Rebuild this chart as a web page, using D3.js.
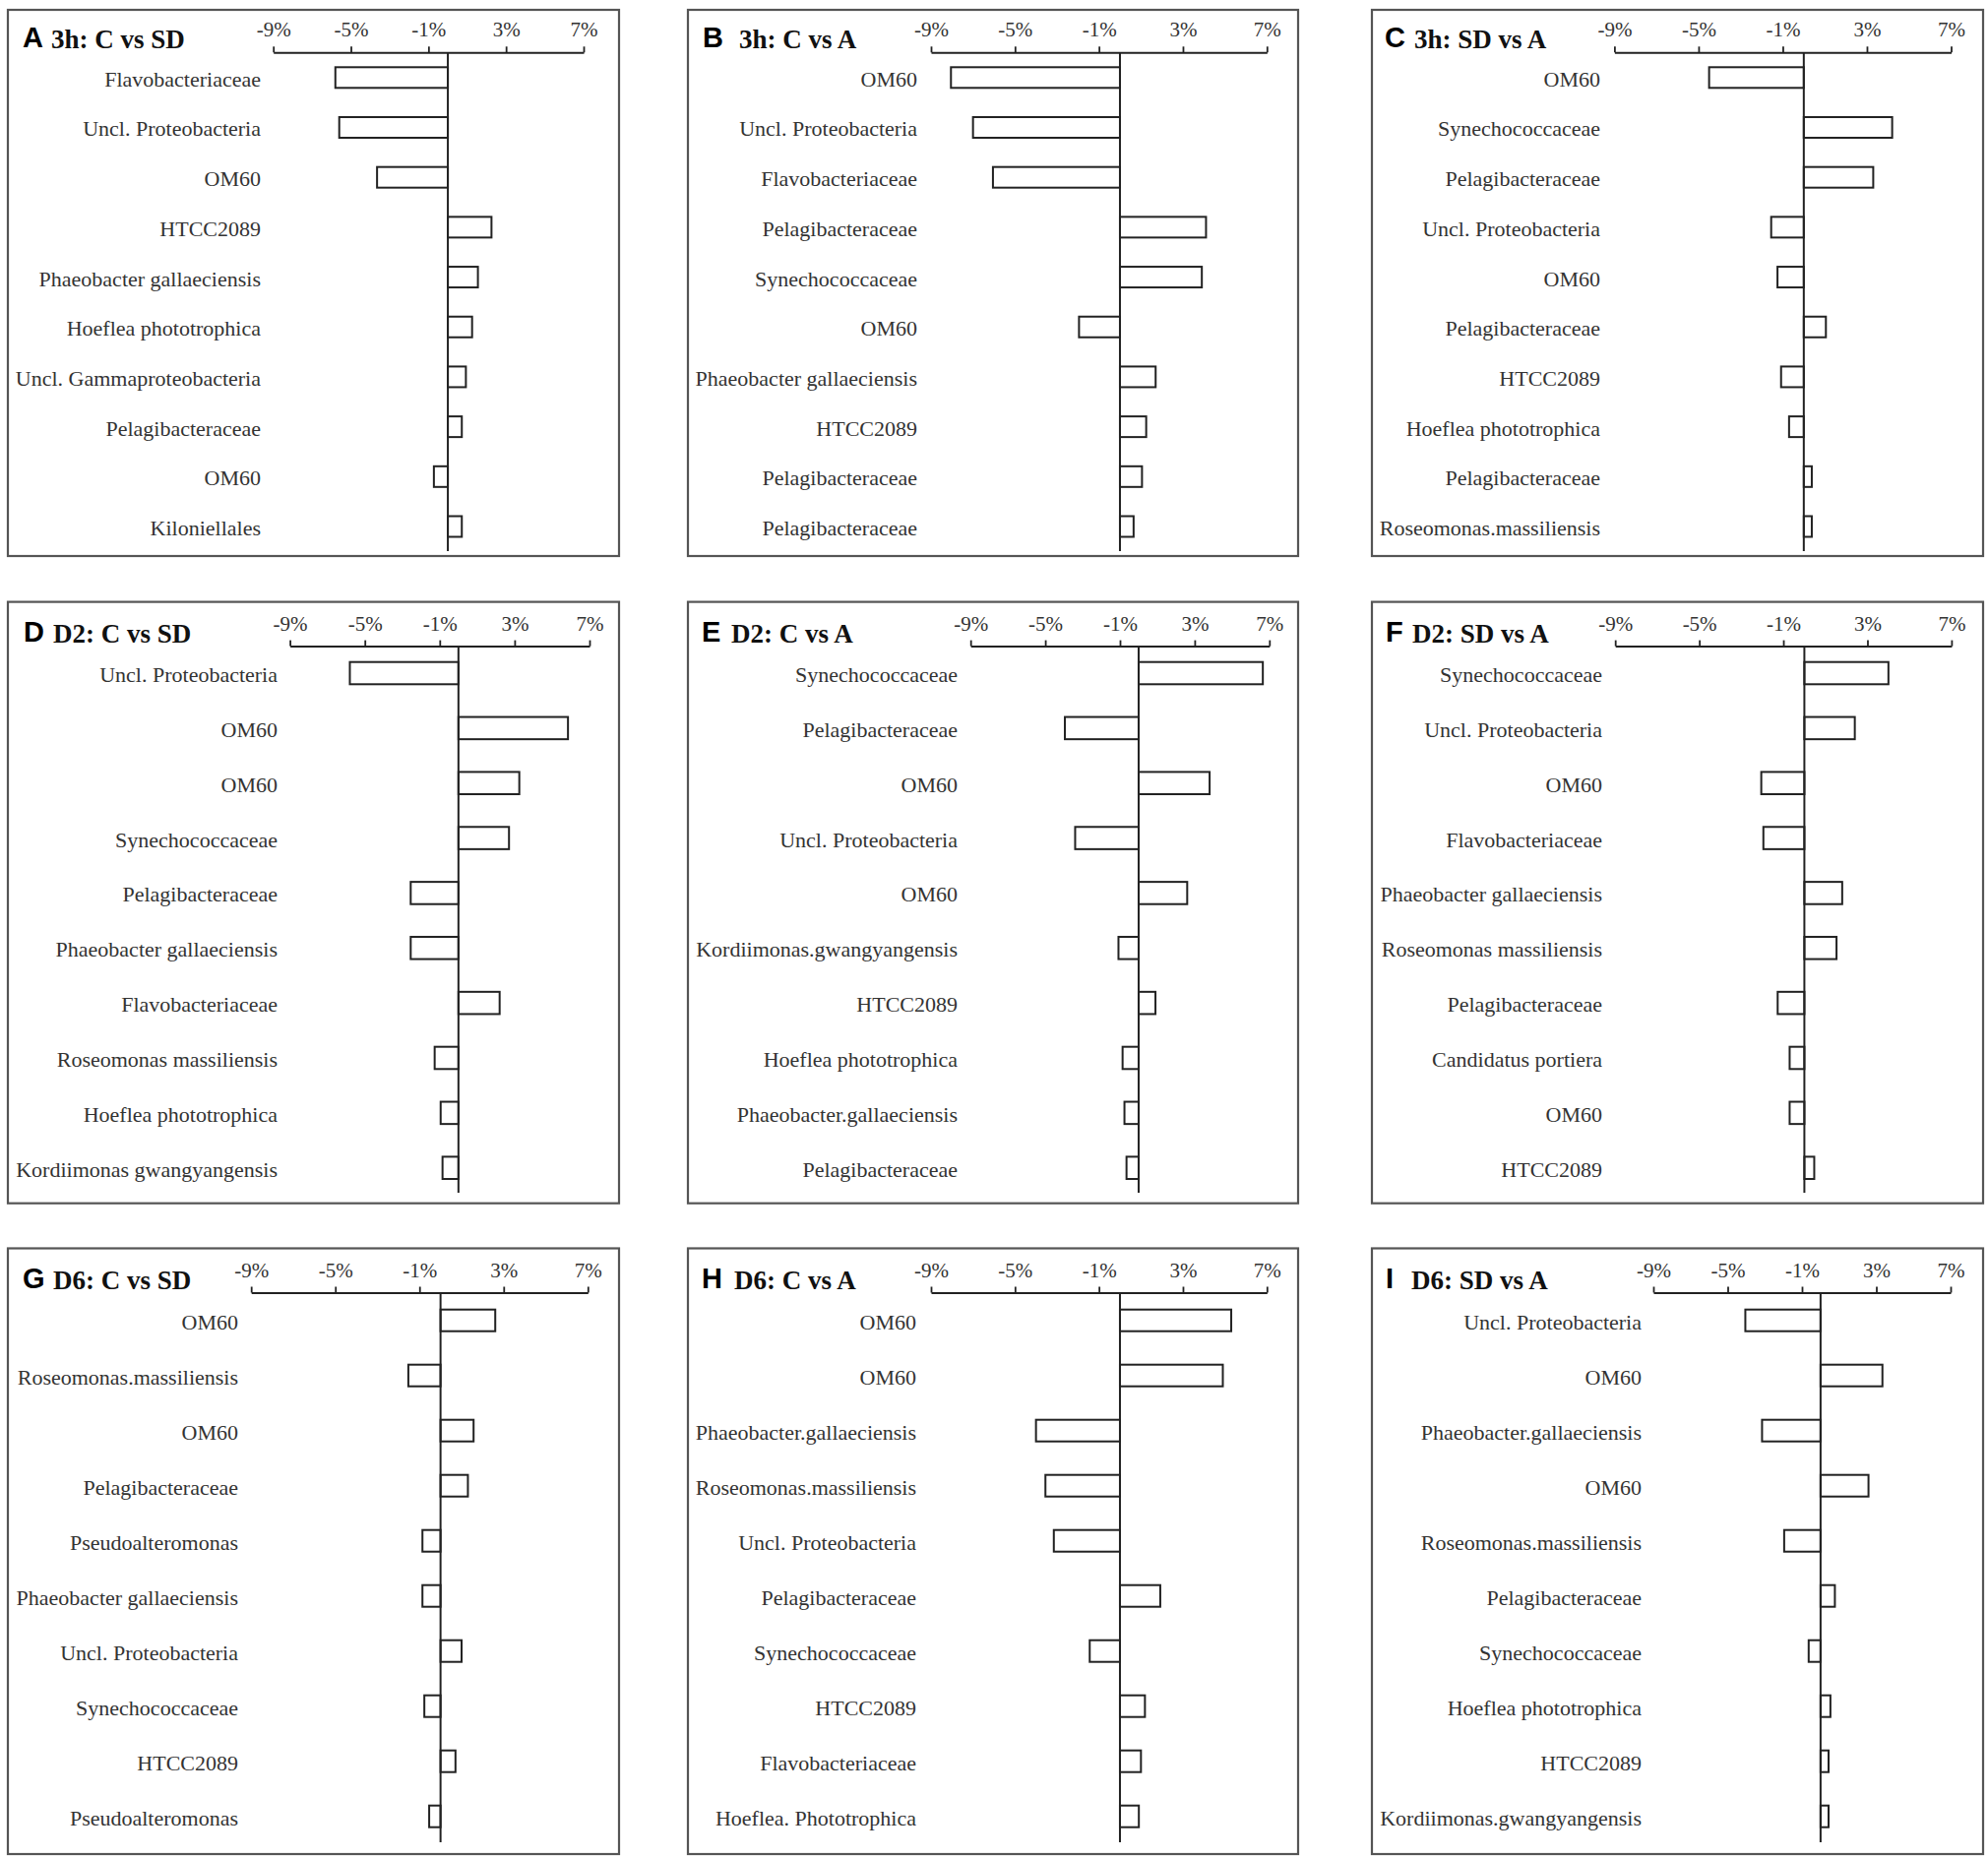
<!DOCTYPE html>
<html>
<head>
<meta charset="utf-8">
<script src="https://cdn.jsdelivr.net/npm/d3@7"></script>
<style>
  html, body { margin: 0; padding: 0; background: #fff; }
  svg { display: block; }
</style>
</head>
<body>
<svg id="chart" width="2020" height="1888"></svg>
<script>
// ---------------- DATA ----------------
const panelLetters = ['A','B','C','D','E','F','G','H','I'];
const panelTitles = ['3h: C vs SD','3h: C vs A','3h: SD vs A',
                     'D2: C vs SD','D2: C vs A','D2: SD vs A',
                     'D6: C vs SD','D6: C vs A','D6: SD vs A'];
const tickValues = [-9, -5, -1, 3, 7];
const tickLabels = ['-9%', '-5%', '-1%', '3%', '7%'];

const catsA = ['Flavobacteriaceae','Uncl. Proteobacteria','OM60','HTCC2089','Phaeobacter gallaeciensis','Hoeflea phototrophica','Uncl. Gammaproteobacteria','Pelagibacteraceae','OM60','Kiloniellales'];
const valsA = [-5.8, -5.6, -3.65, 2.25, 1.55, 1.25, 0.93, 0.72, -0.72, 0.72];

const catsB = ['OM60','Uncl. Proteobacteria','Flavobacteriaceae','Pelagibacteraceae','Synechococcaceae','OM60','Phaeobacter gallaeciensis','HTCC2089','Pelagibacteraceae','Pelagibacteraceae'];
const valsB = [-8.05, -7.0, -6.05, 4.1, 3.9, -1.95, 1.7, 1.25, 1.05, 0.65];

const catsC = ['OM60','Synechococcaceae','Pelagibacteraceae','Uncl. Proteobacteria','OM60','Pelagibacteraceae','HTCC2089','Hoeflea phototrophica','Pelagibacteraceae','Roseomonas.massiliensis'];
const valsC = [-4.5, 4.2, 3.3, -1.55, -1.25, 1.05, -1.08, -0.7, 0.38, 0.38];

const catsD = ['Uncl. Proteobacteria','OM60','OM60','Synechococcaceae','Pelagibacteraceae','Phaeobacter gallaeciensis','Flavobacteriaceae','Roseomonas massiliensis','Hoeflea phototrophica','Kordiimonas gwangyangensis'];
const valsD = [-5.8, 5.85, 3.25, 2.7, -2.55, -2.55, 2.2, -1.27, -0.95, -0.85];

const catsE = ['Synechococcaceae','Pelagibacteraceae','OM60','Uncl. Proteobacteria','OM60','Kordiimonas.gwangyangensis','HTCC2089','Hoeflea phototrophica','Phaeobacter.gallaeciensis','Pelagibacteraceae'];
const valsE = [6.65, -3.95, 3.8, -3.4, 2.6, -1.08, 0.9, -0.86, -0.76, -0.65];

const catsF = ['Synechococcaceae','Uncl. Proteobacteria','OM60','Flavobacteriaceae','Phaeobacter gallaeciensis','Roseomonas massiliensis','Pelagibacteraceae','Candidatus portiera','OM60','HTCC2089'];
const valsF = [4.0, 2.4, -2.05, -1.95, 1.8, 1.53, -1.27, -0.7, -0.7, 0.47];

const catsG = ['OM60','Roseomonas.massiliensis','OM60','Pelagibacteraceae','Pseudoalteromonas','Phaeobacter gallaeciensis','Uncl. Proteobacteria','Synechococcaceae','HTCC2089','Pseudoalteromonas'];
const valsG = [2.6, -1.53, 1.57, 1.3, -0.86, -0.86, 1.0, -0.77, 0.71, -0.54];

const catsH = ['OM60','OM60','Phaeobacter.gallaeciensis','Roseomonas.massiliensis','Uncl. Proteobacteria','Pelagibacteraceae','Synechococcaceae','HTCC2089','Flavobacteriaceae','Hoeflea. Phototrophica'];
const valsH = [5.3, 4.9, -4.0, -3.55, -3.15, 1.92, -1.44, 1.19, 1.0, 0.9];

const catsI = ['Uncl. Proteobacteria','OM60','Phaeobacter.gallaeciensis','OM60','Roseomonas.massiliensis','Pelagibacteraceae','Synechococcaceae','Hoeflea phototrophica','HTCC2089','Kordiimonas.gwangyangensis'];
const valsI = [-4.05, 3.33, -3.15, 2.58, -1.96, 0.77, -0.64, 0.53, 0.43, 0.43];

const panelCats = [catsA, catsB, catsC, catsD, catsE, catsF, catsG, catsH, catsI];
const panelVals = [valsA, valsB, valsC, valsD, valsE, valsF, valsG, valsH, valsI];

// ---------------- LAYOUT ----------------
const colLayout = [
  // per panel: box x-range, axis x-range (-9 .. 7), label right edge, letter x, title x
  {box:[8,629],     ax:[277.7,593],    lab:265,    letterX:23,   titleX:52},
  {box:[699,1319],  ax:[946,1287.3],   lab:932,    letterX:714,  titleX:751},
  {box:[1394,2015], ax:[1640.4,1982.5],lab:1626,   letterX:1407, titleX:1437},
  {box:[8,629],     ax:[294.6,599],    lab:282,    letterX:24,   titleX:54},
  {box:[699,1319],  ax:[986.2,1289.8], lab:973,    letterX:713,  titleX:743},
  {box:[1394,2015], ax:[1641.2,1982.9],lab:1628,   letterX:1408, titleX:1435},
  {box:[8,629],     ax:[255.2,597.3],  lab:242,    letterX:23,   titleX:54},
  {box:[699,1319],  ax:[946,1287.3],   lab:931,    letterX:713,  titleX:746},
  {box:[1394,2015], ax:[1680,1982],    lab:1668,   letterX:1408, titleX:1434}
];
const rowLayout = [
  {box:[10,565],      axisY:53.3,   first:78.8,   last:535,    barH:21,   zeroEnd:560},
  {box:[611.6,1222.7],axisY:656.6,  first:684,    last:1186.7, barH:22.6, zeroEnd:1212},
  {box:[1268.5,1884], axisY:1313.5, first:1341.7, last:1845.7, barH:22,   zeroEnd:1872}
];

const svg = d3.select('#chart');
svg.append('rect').attr('width',2020).attr('height',1888).attr('fill','#fff');

panelLetters.forEach((letter, p) => {
  const cl = colLayout[p];
  const rl = rowLayout[Math.floor(p / 3)];
  const cats = panelCats[p];
  const vals = panelVals[p];
  const g = svg.append('g');

  // frame
  g.append('rect')
    .attr('x', cl.box[0]).attr('y', rl.box[0])
    .attr('width', cl.box[1] - cl.box[0]).attr('height', rl.box[1] - rl.box[0])
    .attr('fill', 'none').attr('stroke', '#555').attr('stroke-width', 2.2);

  const x = d3.scaleLinear().domain([-9, 7]).range(cl.ax);
  const idx = d3.range(cats.length);
  const y = d3.scalePoint().domain(idx).range([rl.first, rl.last]);

  // top axis
  const axis = d3.axisTop(x).tickValues(tickValues)
    .tickFormat((d, i) => tickLabels[i]).tickSize(6).tickSizeOuter(0).tickPadding(10);
  const ag = g.append('g').attr('transform', `translate(0,${rl.axisY})`).call(axis);
  ag.select('.domain').attr('stroke', '#222').attr('stroke-width', 2);
  ag.selectAll('.tick line').attr('stroke', '#222').attr('stroke-width', 1.8);
  ag.selectAll('.tick text')
    .attr('font-family', '"Liberation Serif", "Times New Roman", serif')
    .attr('font-size', 21).attr('fill', '#333');

  // bars
  g.selectAll('rect.bar').data(idx).join('rect')
    .attr('class', 'bar')
    .attr('x', i => Math.min(x(0), x(vals[i])))
    .attr('y', i => y(i) - rl.barH / 2)
    .attr('width', i => Math.abs(x(vals[i]) - x(0)))
    .attr('height', rl.barH)
    .attr('fill', '#fff').attr('stroke', '#222').attr('stroke-width', 2);

  // zero line
  g.append('line')
    .attr('x1', x(0)).attr('x2', x(0))
    .attr('y1', rl.axisY).attr('y2', rl.zeroEnd)
    .attr('stroke', '#222').attr('stroke-width', 2);

  // category labels
  g.selectAll('text.cat').data(idx).join('text')
    .attr('class', 'cat')
    .attr('x', cl.lab).attr('y', i => y(i) + 9)
    .attr('text-anchor', 'end')
    .attr('font-family', '"Liberation Serif", "Times New Roman", serif')
    .attr('font-size', 22).attr('fill', '#333')
    .text(i => cats[i]);

  // panel letter and title
  g.append('text')
    .attr('x', cl.letterX).attr('y', rl.axisY - 5)
    .attr('font-family', '"Liberation Sans", Arial, sans-serif')
    .attr('font-weight', 'bold').attr('font-size', 29).attr('fill', '#000')
    .text(letter);
  g.append('text')
    .attr('x', cl.titleX).attr('y', rl.axisY - 4)
    .attr('font-family', '"Liberation Serif", "Times New Roman", serif')
    .attr('font-weight', 'bold').attr('font-size', 27).attr('fill', '#111')
    .text(panelTitles[p]);
});
</script>
</body>
</html>
